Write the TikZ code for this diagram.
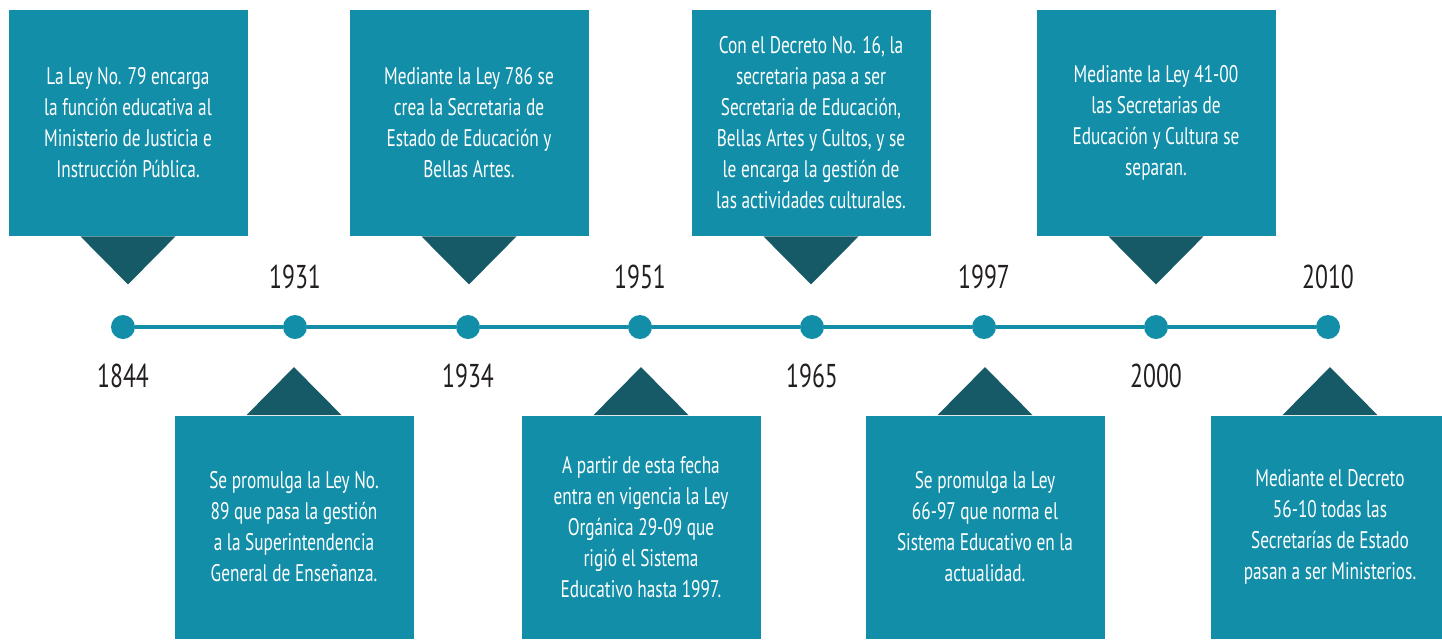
\documentclass[tikz,border=0pt]{standalone}
\usepackage{fontspec}
\setmainfont{PT Sans}[FakeStretch=0.72]
\usetikzlibrary{positioning}
\definecolor{boxteal}{HTML}{128EA8}
\definecolor{tipteal}{HTML}{155A66}
\definecolor{yeargray}{HTML}{231F20}
\tikzset{
	timeline/.style={x=0.5pt,y=-0.5pt},
	event/.style={rectangle,fill=boxteal,text=white,minimum width=119.5pt,
		inner sep=0pt,align=center,font=\fontsize{12}{15.5}\selectfont},
	event top/.style={event,minimum height=113pt},
	event bottom/.style={event,minimum height=111.5pt},
	pointer/.style={fill=tipteal},
	dot/.style={circle,fill=boxteal,minimum size=12pt,inner sep=0pt},
	axis/.style={draw=boxteal,line width=1.75pt},
	year/.style={text=yeargray,inner sep=0pt,font=\fontsize{16.5}{20}\selectfont}
}

\begin{document}
\begin{tikzpicture}[timeline]
	\useasboundingbox (0,0) rectangle (1442,639);
	
	% the years on the line
	\node[dot] (d1844) at (123,327) {};
	\node[dot] (d1931) at (295,327) {};
	\node[dot] (d1934) at (468,327) {};
	\node[dot] (d1951) at (640,327) {};
	\node[dot] (d1965) at (812,327) {};
	\node[dot] (d1997) at (984,327) {};
	\node[dot] (d2000) at (1156,327) {};
	\node[dot] (d2010) at (1328,327) {};
	
	\path[axis] (d1844) -- (d1931) -- (d1934) -- (d1951) -- (d1965) -- (d1997) -- (d2000) -- (d2010);
	
	\node[year] (y1844) [below=12pt of d1844] {1844};
	\node[year] (y1931) [above=12.5pt of d1931] {1931};
	\node[year] (y1934) [below=12pt of d1934] {1934};
	\node[year] (y1951) [above=12.5pt of d1951] {1951};
	\node[year] (y1965) [below=12pt of d1965] {1965};
	\node[year] (y1997) [above=12.5pt of d1997] {1997};
	\node[year] (y2000) [below=12pt of d2000] {2000};
	\node[year] (y2010) [above=12.5pt of d2010] {2010};
	
	% boxes above the line
	\node[event top] (e1844) at (128,123) {La Ley No. 79 encarga\\la función educativa al\\Ministerio de Justicia e\\Instrucción Pública.};
	\node[event top] (e1934) at (469,123) {Mediante la Ley 786 se\\crea la Secretaria de\\Estado de Educación y\\Bellas Artes.};
	\node[event top] (e1965) at (811,123) {Con el Decreto No. 16, la\\secretaria pasa a ser\\Secretaria de Educación,\\Bellas Artes y Cultos, y se\\le encarga la gestión de\\las actividades culturales.};
	\node[event top] (e2000) at (1156,123) {Mediante la Ley 41-00\\las Secretarias de\\Educación y Cultura se\\separan.};
	
	% boxes below the line
	\node[event bottom] (e1931) at (294,527) {Se promulga la Ley No.\\89 que pasa la gestión\\a la Superintendencia\\General de Enseñanza.};
	\node[event bottom] (e1951) at (641,527) {A partir de esta fecha\\entra en vigencia la Ley\\Orgánica 29-09 que\\rigió el Sistema\\Educativo hasta 1997.};
	\node[event bottom] (e1997) at (985,527) {Se promulga la Ley\\66-97 que norma el\\Sistema Educativo en la\\actualidad.};
	\node[event bottom] (e2010) at (1330,527) {Mediante el Decreto\\56-10 todas las\\Secretarías de Estado\\pasan a ser Ministerios.};
	
	% pointers
	\foreach \e in {1844,1934,1965,2000}
		\fill[pointer] ([xshift=-23.75pt]e\e.south) -- ([xshift=23.75pt]e\e.south) -- ([yshift=-24pt]e\e.south) -- cycle;
	\foreach \e in {1931,1951,1997,2010}
		\fill[pointer] ([xshift=-23.75pt]e\e.north) -- ([xshift=23.75pt]e\e.north) -- ([yshift=24pt]e\e.north) -- cycle;
	
\end{tikzpicture}
\end{document}
